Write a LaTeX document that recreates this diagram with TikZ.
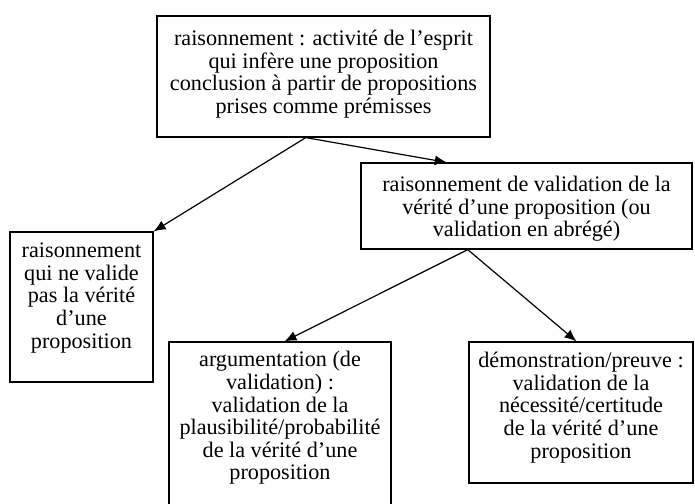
\documentclass[tikz,border=0pt]{standalone}
\usepackage{fontspec}
\setmainfont{Liberation Serif}
\usetikzlibrary{arrows.meta,calc}
\begin{document}
\begin{tikzpicture}[x=1pt,y=-1pt,
  box/.style={draw, line width=1.2pt, inner sep=0pt, minimum width=#1},
  txt/.style={align=center, inner sep=0pt, font=\fontsize{22.2}{22.6}\selectfont},
  arr/.style={line width=1.2pt, -{Latex[length=12pt,width=10pt]}}]
\useasboundingbox (0,0) rectangle (695,503);
\clip (0,0) rectangle (695,503);
% boxes
\node[box=333, minimum height=121] (top) at (323.5,76.5) {};
\node[box=331, minimum height=86] (mid) at (526.5,206) {};
\node[box=143, minimum height=150] (left) at (81.5,307) {};
\node[box=222, minimum height=190] (arg) at (280,437) {};
\node[box=224, minimum height=141] (dem) at (581,412.5) {};
% texts
\node[txt] (topt) at (323.5,74) {raisonnement : activité de l’esprit\\qui infère une proposition\\conclusion à partir de propositions\\prises comme prémisses};
\node[txt] (midt) at (526.5,209) {raisonnement de validation de la\\vérité d’une proposition (ou\\validation en abrégé)};
\node[txt] (leftt) at (81.5,298) {raisonnement\\qui ne valide\\pas la vérité\\d’une\\proposition};
\node[txt] (argt) at (280,418) {argumentation (de\\validation) :\\validation de la\\plausibilité/probabilité\\de la vérité d’une\\proposition};
\node[txt] (demt) at (581,407.5) {démonstration/preuve :\\validation de la\\nécessité/certitude\\de la vérité d’une\\proposition};
% connectors
\coordinate (s1) at ($(top.south west)!0.447!(top.south east)$);
\coordinate (e2) at ($(mid.north west)!0.26!(mid.north east)$);
\coordinate (s3) at ($(mid.south west)!0.323!(mid.south east)$);
\coordinate (e3) at ($(arg.north west)!0.52!(arg.north east)$);
\coordinate (e4) at ($(dem.north west)!0.48!(dem.north east)$);
\draw[arr] (s1) -- (left.north east);
\draw[arr] (s1) -- (e2);
\draw[arr] (s3) -- (e3);
\draw[arr] (s3) -- (e4);
\end{tikzpicture}
\end{document}
